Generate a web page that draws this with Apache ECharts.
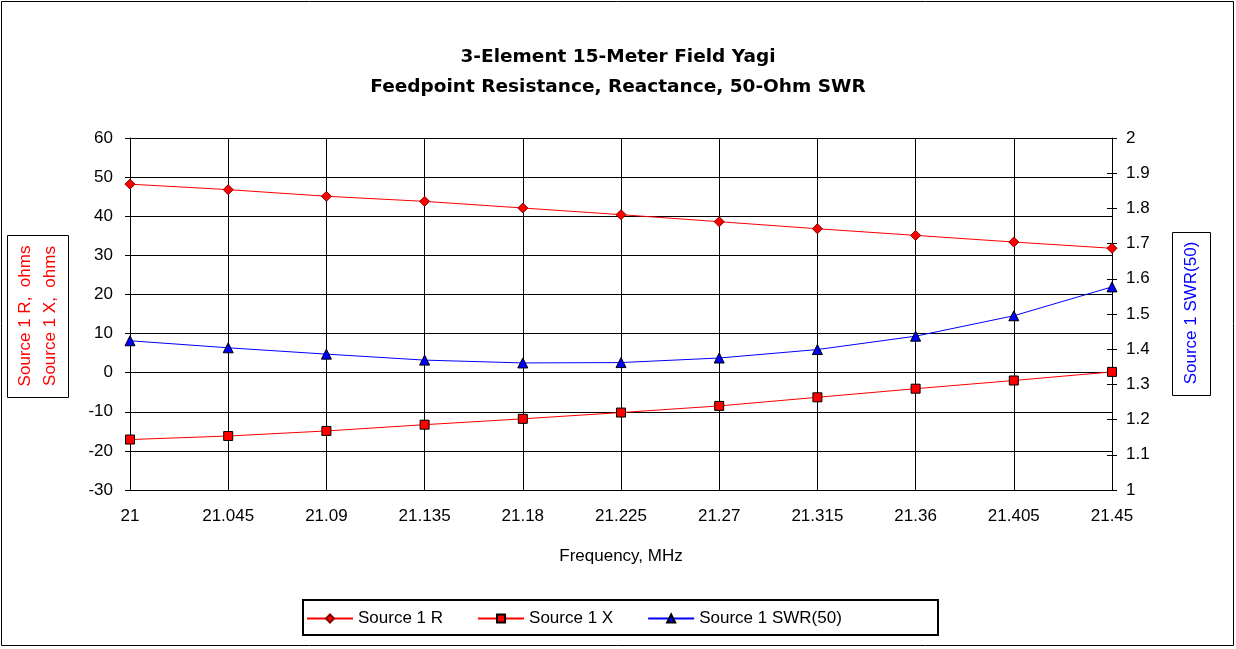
<!DOCTYPE html>
<html><head><meta charset="utf-8">
<script src="https://cdn.jsdelivr.net/npm/echarts@6/dist/echarts.min.js"></script>
<style>html,body{margin:0;padding:0;background:#fff}#c{width:1236px;height:649px}</style>
</head><body><div id="c"></div>
<script>
const categories = ['21','21.045','21.09','21.135','21.18','21.225','21.27','21.315','21.36','21.405','21.45'];
const sourceR = [48.2,46.8,45.1,43.8,42.1,40.4,38.6,36.8,35.1,33.4,31.8];
const sourceX = [-17.1,-16.2,-14.9,-13.3,-11.8,-10.2,-8.5,-6.3,-4.1,-2.0,0.2];
const swr50 = [1.424,1.404,1.386,1.369,1.361,1.362,1.375,1.399,1.437,1.495,1.577];
const seriesNames = ['Source 1 R','Source 1 X','Source 1 SWR(50)'];

const F = 'Liberation Sans, Arial, sans-serif';
const chart = echarts.init(document.getElementById('c'));
chart.setOption({
  animation:false,
  backgroundColor:'#fff',
  title:{
    text:'3-Element 15-Meter Field Yagi\nFeedpoint Resistance, Reactance, 50-Ohm SWR',
    left:'center', top:37,
    textStyle:{fontFamily:'DejaVu Sans, sans-serif',fontSize:18.5,fontWeight:'bold',color:'#000',lineHeight:30}
  },
  grid:{left:130,right:124,top:138,bottom:159,show:false},
  legend:{
    data:seriesNames.map(n=>({name:n})),
    left:306, top:604, height:30,
    itemGap:34, itemWidth:46, itemHeight:10,
    padding:[6,0,6,0],
    textStyle:{fontFamily:F,fontSize:17,color:'#000'}
  },
  xAxis:{
    type:'category', data:categories, boundaryGap:false,
    axisLine:{lineStyle:{color:'#000',width:1}},
    axisTick:{show:true,length:5,lineStyle:{color:'#000'}},
    axisLabel:{fontFamily:F,fontSize:17,color:'#000',margin:18},
    splitLine:{show:true,lineStyle:{color:'#000',width:1}},
    name:'Frequency, MHz', nameLocation:'middle', nameGap:58,
    nameTextStyle:{fontFamily:F,fontSize:17,color:'#000'}
  },
  yAxis:[
    {type:'value',min:-30,max:60,interval:10,
     axisLine:{show:true,lineStyle:{color:'#000'}},
     axisTick:{show:true,length:5,lineStyle:{color:'#000'}},
     axisLabel:{fontFamily:F,fontSize:17,color:'#000',margin:17},
     splitLine:{show:true,lineStyle:{color:'#000',width:1}}},
    {type:'value',min:1,max:2,interval:0.1,position:'right',
     axisLine:{show:true,lineStyle:{color:'#000'}},
     axisTick:{show:true,length:5,lineStyle:{color:'#000'}},
     axisLabel:{fontFamily:F,fontSize:17,color:'#000',margin:14,
       formatter:v=>String(Math.round(v*10)/10)},
     splitLine:{show:false}},
    {type:'value',min:1,max:2,interval:0.1,position:'right',
     axisLine:{show:false},
     axisTick:{show:true,inside:true,length:5,lineStyle:{color:'#000'}},
     axisLabel:{show:false},
     splitLine:{show:false}}
  ],
  series:[
    {name:seriesNames[0],type:'line',yAxisIndex:0,data:sourceR,
     symbol:'diamond',symbolSize:10,
     lineStyle:{color:'#ff0000',width:1},
     itemStyle:{color:'#ff0000',borderColor:'#800000',borderWidth:1}},
    {name:seriesNames[1],type:'line',yAxisIndex:0,data:sourceX,
     symbol:'rect',symbolSize:9,
     lineStyle:{color:'#ff0000',width:1},
     itemStyle:{color:'#ff0000',borderColor:'#000',borderWidth:1}},
    {name:seriesNames[2],type:'line',yAxisIndex:1,data:swr50,
     symbol:'triangle',symbolSize:10,
     lineStyle:{color:'#0000ff',width:1},
     itemStyle:{color:'#0000ff',borderColor:'#000',borderWidth:1}}
  ],
  graphic:[
    {type:'rect',shape:{x:1.5,y:1.5,width:1232,height:644},style:{fill:null,stroke:'#000',lineWidth:1},silent:true},
    {type:'rect',shape:{x:303,y:600,width:635,height:35},style:{fill:null,stroke:'#000',lineWidth:2},silent:true},
    {type:'rect',shape:{x:7.5,y:235.5,width:61,height:162},style:{fill:'#fff',stroke:'#000',lineWidth:1},silent:true,z:10},
    {type:'text',x:25,y:316,rotation:Math.PI/2,z:11,
     style:{text:'Source 1 R,  ohms',fill:'#ff0000',font:'17px '+F,align:'center',verticalAlign:'middle'}},
    {type:'text',x:50,y:316,rotation:Math.PI/2,z:11,
     style:{text:'Source 1 X,  ohms',fill:'#ff0000',font:'17px '+F,align:'center',verticalAlign:'middle'}},
    {type:'rect',shape:{x:1172.5,y:232.5,width:38,height:163},style:{fill:'#fff',stroke:'#000',lineWidth:1},silent:true,z:10},
    {type:'text',x:1191,y:313,rotation:Math.PI/2,z:11,
     style:{text:'Source 1 SWR(50)',fill:'#0000ff',font:'17px '+F,align:'center',verticalAlign:'middle'}}
  ]
});
</script></body></html>
